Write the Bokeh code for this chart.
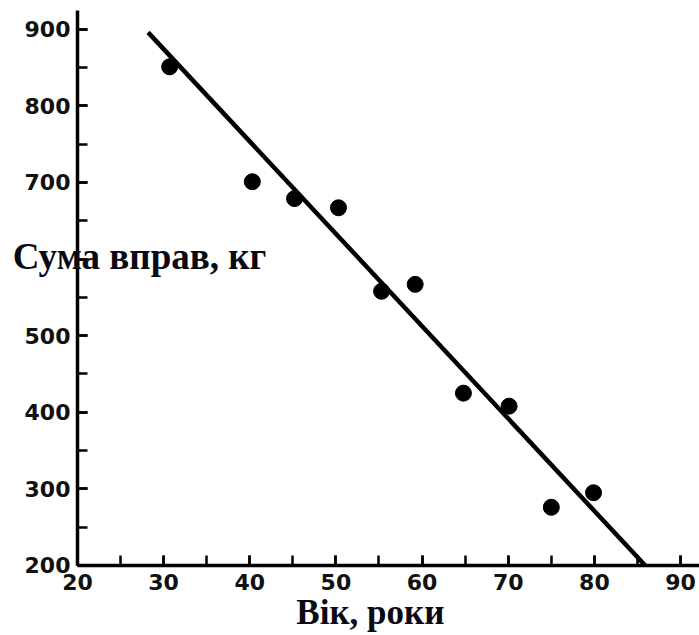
from bokeh.plotting import figure
from bokeh.models import Label, SingleIntervalTicker, Range1d
from bokeh.embed import file_html
from bokeh.resources import INLINE

# data
age = [30.7, 40.3, 45.2, 50.3, 55.3, 59.2, 64.8, 70.1, 75.0, 79.9]
total = [851, 701, 679, 667, 558, 567, 425, 408, 276, 295]
fit_age = [28.2, 85.9]
fit_total = [896, 200]

x_label = "Вік, роки"
y_label = "Сума вправ, кг"

x_axis_span = (20, 92.2)
y_axis_span = (200, 924.5)

p = figure(width=699, height=635, output_backend="svg", toolbar_location=None,
           x_range=Range1d(11.07, 92.2), y_range=Range1d(108.6, 937.6),
           min_border=0)
p.outline_line_color = None
p.xgrid.visible = False
p.ygrid.visible = False
p.background_fill_color = "white"
p.border_fill_color = "white"

p.line(fit_age, fit_total, line_width=4.5, line_color="black")
p.scatter(age, total, size=16, fill_color="black", line_color="black")

xa = p.xaxis[0]
ya = p.yaxis[0]
xa.fixed_location = y_axis_span[0]
ya.fixed_location = x_axis_span[0]
xa.bounds = x_axis_span
ya.bounds = y_axis_span

for ax, interval in ((xa, 10), (ya, 100)):
    ax.ticker = SingleIntervalTicker(interval=interval, num_minor_ticks=2)
    ax.axis_line_width = 3.5
    ax.axis_line_color = "black"
    ax.major_tick_in = 10
    ax.major_tick_out = 0
    ax.minor_tick_in = 10
    ax.minor_tick_out = 0
    ax.major_tick_line_width = 2.5
    ax.minor_tick_line_width = 2.5
    ax.major_tick_line_color = "black"
    ax.minor_tick_line_color = "black"
    ax.major_label_text_font = "DejaVu Sans"
    ax.major_label_text_font_style = "bold"
    ax.major_label_text_font_size = "22px"
    ax.major_label_text_color = "#111111"

ya.major_label_standoff = 7
xa.major_label_standoff = 9
ya.major_label_overrides = {600: ""}

p.add_layout(Label(x=12.5, y=603, text=y_label, text_font="Liberation Serif",
                   text_font_style="bold", text_font_size="37px", text_color="#0a0a14",
                   text_align="left", text_baseline="middle", level="overlay"))
p.add_layout(Label(x=54, y=139, text=x_label, text_font="Liberation Serif",
                   text_font_style="bold", text_font_size="35px", text_color="#0a0a14",
                   text_align="center", text_baseline="middle", level="overlay"))

open("out.html", "w").write(file_html(p, INLINE))
